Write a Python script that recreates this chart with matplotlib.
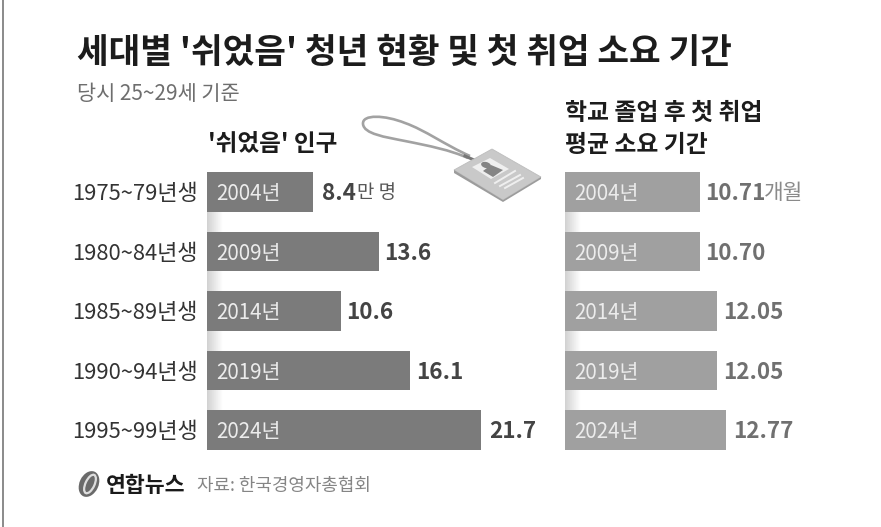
import numpy as np
import matplotlib
matplotlib.use('Agg')
import matplotlib.pyplot as plt
from matplotlib.patches import Polygon, Ellipse, PathPatch
from matplotlib.path import Path

plt.rcParams['font.family'] = ['Noto Sans CJK KR', 'DejaVu Sans']

cohorts = ['1975~79년생', '1980~84년생', '1985~89년생', '1990~94년생', '1995~99년생']
years = ['2004년', '2009년', '2014년', '2019년', '2024년']
population = [8.4, 13.6, 10.6, 16.1, 21.7]
population_labels = ['8.4', '13.6', '10.6', '16.1', '21.7']
months = [10.71, 10.70, 12.05, 12.05, 12.77]
months_labels = ['10.71', '10.70', '12.05', '12.05', '12.77']

W, H = 881, 527
fig = plt.figure(figsize=(W/100, H/100), dpi=100, facecolor='white')

def make_axes(x0, x1, y0, y1):
    return fig.add_axes([x0/W, 1-y1/H, (x1-x0)/W, (y1-y0)/H])

bg = fig.add_axes([0, 0, 1, 1], zorder=0)
bg.set_xlim(0, W); bg.set_ylim(H, 0); bg.axis('off')
bg.plot([2.5, 2.5], [0, H], color='#8a8a8a', lw=1.4)

SCALE = 12.63
lax = make_axes(207, 207+24*SCALE, 162.25, 459.75)
rax = make_axes(565, 565+24*SCALE, 162.25, 459.75)
for ax, vals, col in ((lax, population, '#7b7b7b'), (rax, months, '#a0a0a0')):
    ax.barh(range(5), vals, height=0.672, color=col, zorder=2)
    ax.axis('off'); ax.patch.set_alpha(0)
    for i, y in enumerate(years):
        ax.text(0.7, i+0.04, y, color='#ececec', fontsize=14.8, va='center', ha='left', zorder=3)
    for i in range(4):
        g = np.linspace(0.82, 1, 40)[None, :]
        ax.imshow(g, cmap='gray', vmin=0, vmax=1, extent=(0, 1.25, i+0.664, i+0.336),
                  aspect='auto', zorder=1)
    ax.set_xlim(0, 24); ax.set_ylim(4.5, -0.5)

left_gaps = [0.72, 0.40, 0.42, 0.42, 0.62]
right_gaps = [0.42, 0.42, 0.50, 0.50, 0.55]
for i, c in enumerate(cohorts):
    lax.text(-0.72, i+0.04, c, color='#333333', fontsize=15.8, va='center', ha='right')
    lax.text(population[i]+left_gaps[i], i+0.03, population_labels[i], color='#444444', fontsize=16.2,
             fontweight='bold', va='center', ha='left')
    rax.text(months[i]+right_gaps[i], i+0.03, months_labels[i], color='#707070', fontsize=16.2,
             fontweight='bold', va='center', ha='left')

bg.text(357, 193, '만 명', color='#555555', fontsize=13.6, va='center', ha='left')
bg.text(764, 193, '개월', color='#8a8a8a', fontsize=15.4, va='center', ha='left')

bg.text(77, 53, "세대별 '쉬었음' 청년 현황 및 첫 취업 소요 기간", color='#1c1c1c', fontsize=24.8,
        fontweight='bold', va='center', ha='left')
bg.text(77, 94, '당시 25~29세 기준', color='#6e6e6e', fontsize=15, va='center', ha='left')
bg.text(208, 144, "'쉬었음' 인구", color='#1c1c1c', fontsize=17, fontweight='bold', va='center', ha='left')
bg.text(565, 113, '학교 졸업 후 첫 취업', color='#1c1c1c', fontsize=17.2, fontweight='bold', va='center', ha='left')
bg.text(565, 145, '평균 소요 기간', color='#1c1c1c', fontsize=17.2, fontweight='bold', va='center', ha='left')

# lanyard
loop = Path([(470, 156), (445, 145), (425, 130), (405, 123),
             (385, 115), (362, 114), (363, 124),
             (364, 134), (385, 137), (405, 141),
             (430, 146), (450, 150), (468, 158)],
            [Path.MOVETO] + [Path.CURVE4]*12)
bg.add_patch(PathPatch(loop, fc='none', ec='#a2a2a2', lw=1.9, zorder=2))
bg.plot([465, 474], [156, 160], color='#777777', lw=2.2, zorder=2)
bg.add_patch(Polygon([(454, 170), (492, 149), (541, 177), (503, 200)], closed=True, fc='#c9c9c9', ec='#bdbdbd', lw=0.6, zorder=3))
bg.add_patch(Polygon([(454, 170), (503, 200), (541, 177), (541, 179), (503, 202), (454, 173)], closed=True, fc='#9c9c9c', ec='none', zorder=3))
bg.add_patch(Polygon([(472, 167), (490, 158), (509, 169), (491, 179)], closed=True, fc='#efefef', ec='none', zorder=4))
bg.add_patch(Ellipse((486, 165), 10, 6, angle=15, fc='#858585', ec='none', zorder=5))
bg.add_patch(Polygon([(483, 171), (491, 165), (503, 170), (493, 177)], closed=True, fc='#858585', ec='none', zorder=5))
for a, b in (((495, 183), (515, 171)), ((500, 186), (520, 175)), ((505, 188), (523, 178))):
    bg.plot([a[0], b[0]], [a[1], b[1]], color='#efefef', lw=1.4, zorder=5)

bg.add_patch(Ellipse((89, 484), 19, 27, angle=25, fc='#6a6a6a', ec='none', zorder=3))
bg.add_patch(Ellipse((90, 484), 9, 20, angle=25, fc='none', ec='#dddddd', lw=1.6, zorder=4))
bg.text(106, 486, '연합뉴스', color='#1a1a1a', fontsize=15.6, fontweight='black', va='center', ha='left')
bg.text(197, 486, '자료: 한국경영자총협회', color='#858585', fontsize=12.9, va='center', ha='left')

fig.savefig('out.png', dpi=100, facecolor='white')
